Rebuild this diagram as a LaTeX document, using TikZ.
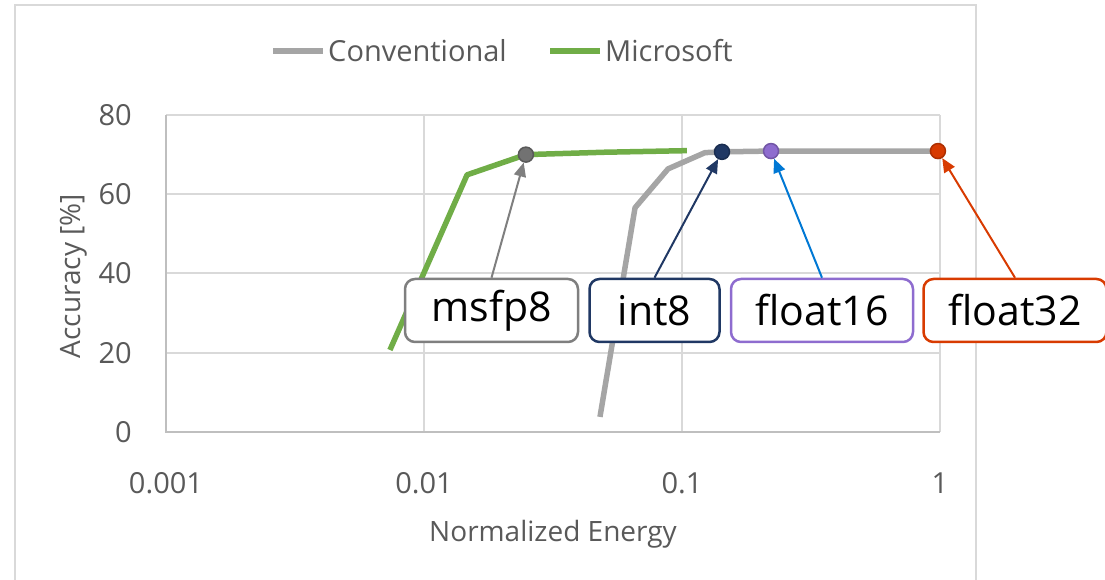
\documentclass[tikz,border=0pt]{standalone}
\usepackage{fontspec}
\setmainfont{Open Sans}
\usetikzlibrary{arrows.meta,positioning}
\definecolor{convgray}{HTML}{A5A5A5}
\definecolor{msgreen}{HTML}{70AD47}
\definecolor{gridgray}{HTML}{D9D9D9}
\definecolor{axisgray}{HTML}{BFBFBF}
\definecolor{txtgray}{HTML}{595959}
\definecolor{msfpgray}{HTML}{7F7F7F}
\definecolor{intnavy}{HTML}{203864}
\definecolor{fpurple}{HTML}{8E6CCF}
\definecolor{fblue}{HTML}{0078D4}
\definecolor{forange}{HTML}{D83B01}

\begin{document}
\begin{tikzpicture}[
  x=1pt, y=1pt,
  font=\fontsize{29}{33}\selectfont,
  node distance=9pt and 9pt,
  gridline/.style={draw=gridgray, line width=2pt},
  series/.style={line width=5.5pt, line join=round},
  ticklbl/.style={text=txtgray, inner sep=0pt},
  dot/.style={circle, inner sep=0pt, minimum size=15pt, line width=1.5pt},
  lbox/.style={draw, rounded corners=10pt, line width=2.5pt, fill=white, minimum height=63pt, inner sep=0pt, font=\fontsize{41}{45}\selectfont},
  arr/.style={-{Triangle[length=14pt,width=12pt]}, line width=2pt},
]
\useasboundingbox (0,0) rectangle (1105,580);
% --- chart frame -----------------------------------------------------------
\draw[gridline] (15,-10) |- (976,575) -- (976,-10);

% --- legend ----------------------------------------------------------------
\draw[series, convgray] (273,529) -- (323,529);
\node[ticklbl, anchor=west] (legconv) at (328,529) {Conventional};
\draw[series, msgreen] (550,529) -- (600,529);
\node[ticklbl, anchor=west] (legms) at (605,529) {Microsoft};

% --- plot area, x in decades from 0.001, y in percent ----------------------
\begin{scope}[shift={(166,148)}, x=258pt, y=3.9625pt]
  \foreach \y in {0,20,...,80} \draw[gridline] (0,\y) -- (3,\y);
  \foreach \i in {1,2,3} \draw[gridline] (\i,0) -- (\i,80);
  \draw[gridline, draw=axisgray] (0,80) -- (0,0) -- (3,0);
  \foreach \y in {0,20,...,80} \node[ticklbl, anchor=east, xshift=-34pt] (yt\y) at (0,\y) {\y};
  \foreach \i/\t in {0/0.001,1/0.01,2/0.1,3/1} \node[ticklbl, yshift=-51pt] (xt\i) at (\i,0) {\t};

  % series
  \draw[series, convgray] (1.682,3.8) -- (1.818,56.6) -- (1.946,66.4) -- (2.089,70.5) -- (2.155,70.7) -- (2.345,70.9) -- (2.992,70.9);
  \draw[series, msgreen] (0.868,20.7) -- (1.167,64.9) -- (1.395,70) -- (1.7,70.6) -- (2.019,71);

  % markers
  \node[dot, fill=msfpgray!90!black, draw=txtgray] (msfp8) at (1.395,70) {};
  \node[dot, fill=intnavy, draw=intnavy!80!black] (int8) at (2.155,70.7) {};
  \node[dot, fill=fpurple, draw=fpurple!80!black] (float16) at (2.345,70.9) {};
  \node[dot, fill=forange, draw=forange!80!black] (float32) at (2.992,70.9) {};
\end{scope}

% --- axis titles -----------------------------------------------------------
\node[ticklbl, font=\fontsize{28}{32}\selectfont, rotate=90] (ytitle) at (74,304) {Accuracy [\%]};
\node[ticklbl, font=\fontsize{28}{32}\selectfont] (xtitle) at (553,45.5) {Normalized Energy};

% --- callout boxes ---------------------------------------------------------
\node[lbox, draw=msfpgray, minimum width=173pt] (bmsfp8) at (491.5,269.5) {msfp8};
\node[lbox, draw=intnavy, minimum width=130pt, right=of bmsfp8] (bint8) {int8};
\node[lbox, draw=fpurple, minimum width=182pt, right=of bint8] (bfloat16) {float16};
\node[lbox, draw=forange, minimum width=183pt, right=8pt of bfloat16] (bfloat32) {float32};

% --- arrows ----------------------------------------------------------------
\draw[arr, msfpgray] (bmsfp8.north) -- (msfp8);
\draw[arr, intnavy] (bint8.north) -- (int8);
\draw[arr, fblue] (bfloat16.north) -- (float16);
\draw[arr, forange] (bfloat32.north) -- (float32);
\end{tikzpicture}
\end{document}
